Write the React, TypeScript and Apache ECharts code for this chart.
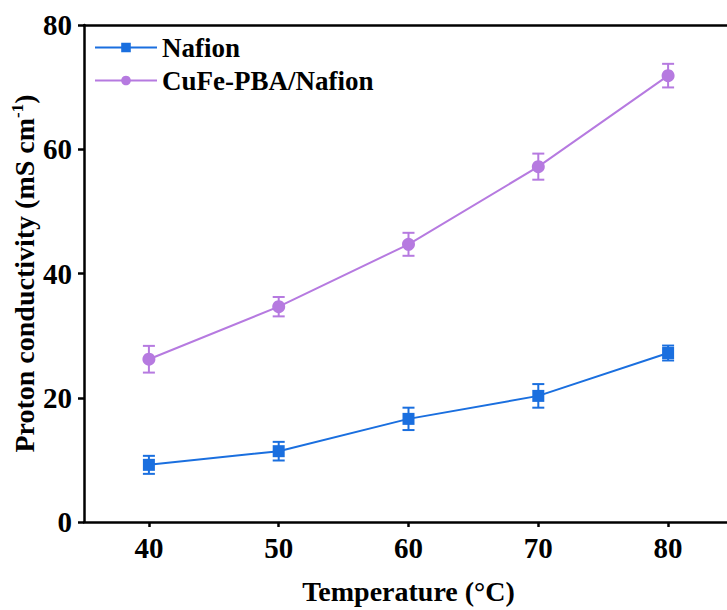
import React, { useEffect, useRef } from "react";
import * as echarts from "echarts";

const temperatures = [40, 50, 60, 70, 80];
const nafionValues = [9.2, 11.4, 16.6, 20.3, 27.2];
const nafionErrors = [1.45, 1.5, 1.8, 1.9, 1.2];
const cufeValues = [26.2, 34.66, 44.7, 57.2, 71.85];
const cufeErrors = [2.15, 1.56, 1.85, 2.1, 1.9];
const xTicks = [40, 50, 60, 70, 80];

const FONT = '"Liberation Serif", "Times New Roman", serif';
const BLUE = "#1a6fdf";
const PURPLE = "#b67ae0";

function errorSeries(values: number[], errors: number[], color: string) {
  return {
    type: "custom",
    silent: true,
    z: 3,
    data: temperatures.map((t, i) => [t, values[i] - errors[i], values[i] + errors[i]]),
    renderItem: (params: any, api: any) => {
      const x = api.value(0);
      const lo = api.coord([x, api.value(1)]);
      const hi = api.coord([x, api.value(2)]);
      const half = 6;
      const style = { stroke: color, lineWidth: 2, fill: "none" };
      return {
        type: "group",
        children: [
          { type: "line", shape: { x1: lo[0], y1: lo[1], x2: hi[0], y2: hi[1] }, style },
          { type: "line", shape: { x1: lo[0] - half, y1: lo[1], x2: lo[0] + half, y2: lo[1] }, style },
          { type: "line", shape: { x1: hi[0] - half, y1: hi[1], x2: hi[0] + half, y2: hi[1] }, style },
        ],
      };
    },
  };
}

export default function App() {
  const ref = useRef<HTMLDivElement>(null);
  useEffect(() => {
    if (!ref.current) return;
    const chart = echarts.init(ref.current, null, { renderer: "svg" });
    const axisLine = { show: true, lineStyle: { color: "#000", width: 2.5 } };
    chart.setOption({
      animation: false,
      backgroundColor: "#fff",
      grid: { left: 84, right: -6, top: 25, bottom: 88, containLabel: false, outerBoundsMode: "none" },
      legend: {
        orient: "vertical",
        left: 89,
        top: 29,
        itemWidth: 62,
        itemHeight: 12,
        itemGap: 6,
        data: ["Nafion", "CuFe-PBA/Nafion"],
        textStyle: { fontFamily: FONT, fontWeight: "bold", fontSize: 27, color: "#000" },
      },
      xAxis: [
        {
          type: "value",
          min: 35,
          max: 85,
          name: "Temperature (°C)",
          nameLocation: "middle",
          nameGap: 55,
          nameMoveOverlap: false,
          nameTextStyle: { fontFamily: FONT, fontWeight: "bold", fontSize: 28, color: "#000" },
          axisLine,
          axisTick: { show: true, length: 5, customValues: xTicks, lineStyle: { color: "#000", width: 2.5 } },
          axisLabel: {
            customValues: xTicks,
            margin: 11,
            fontFamily: FONT,
            fontWeight: "bold",
            fontSize: 29,
            color: "#000",
          },
          splitLine: { show: false },
        },
        {
          type: "value",
          position: "top",
          min: 35,
          max: 85,
          axisLine,
          axisTick: { show: false },
          axisLabel: { show: false },
          splitLine: { show: false },
        },
      ],
      yAxis: {
        type: "value",
        min: 0,
        max: 80,
        interval: 20,
        name: "Proton conductivity (mS cm{sup|-1})",
        nameLocation: "middle",
        nameRotate: 90,
        nameGap: 45,
        nameMoveOverlap: false,
        nameTextStyle: {
          fontFamily: FONT,
          fontWeight: "bold",
          fontSize: 28,
          color: "#000",
          rich: {
            sup: { fontFamily: FONT, fontWeight: "bold", fontSize: 17, color: "#000", verticalAlign: "top", padding: [0, 0, 13, 0] },
          },
        },
        axisLine,
        axisTick: { show: true, length: 6, lineStyle: { color: "#000", width: 2.5 } },
        axisLabel: { margin: 12, fontFamily: FONT, fontWeight: "bold", fontSize: 29, color: "#000" },
        splitLine: { show: false },
      },
      series: [
        errorSeries(nafionValues, nafionErrors, BLUE),
        errorSeries(cufeValues, cufeErrors, PURPLE),
        {
          name: "Nafion",
          type: "line",
          data: temperatures.map((t, i) => [t, nafionValues[i]]),
          symbol: "rect",
          symbolSize: 12,
          color: BLUE,
          lineStyle: { color: BLUE, width: 2 },
          itemStyle: { color: BLUE },
          z: 4,
        },
        {
          name: "CuFe-PBA/Nafion",
          type: "line",
          data: temperatures.map((t, i) => [t, cufeValues[i]]),
          symbol: "circle",
          symbolSize: 13,
          color: PURPLE,
          lineStyle: { color: PURPLE, width: 2 },
          itemStyle: { color: PURPLE },
          z: 4,
        },
      ],
    });
    return () => chart.dispose();
  }, []);
  return <div ref={ref} style={{ width: 727, height: 610, position: "absolute", left: 0, top: 0 }} />;
}
